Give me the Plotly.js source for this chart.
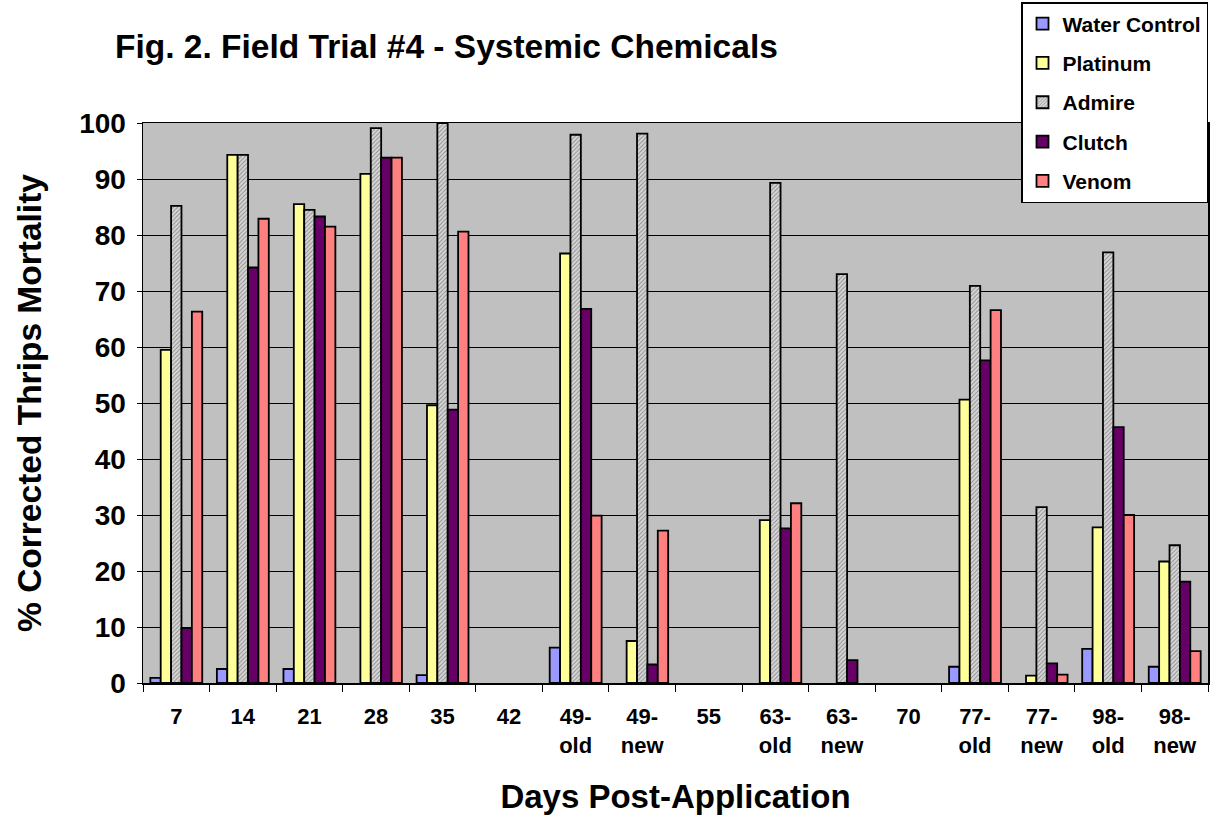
<!DOCTYPE html>
<html>
<head>
<meta charset="utf-8">
<script src="https://cdn.plot.ly/plotly-3.0.1.min.js"></script>
<style>html,body{margin:0;padding:0;background:#fff;}#chart{width:1210px;height:815px;}</style>
</head>
<body>
<div id="chart"></div>
<script>
const categories = ["7","14","21","28","35","42","49-<br>old","49-<br>new","55","63-<br>old","63-<br>new","70","77-<br>old","77-<br>new","98-<br>old","98-<br>new"];
const waterControl = [0.9, 2.5, 2.5, null, 1.4, null, 6.3, null, null, null, null, null, 2.9, null, 6.1, 2.9];
const platinum     = [59.5, 94.3, 85.5, 90.9, 49.6, null, 76.7, 7.5, null, 29.1, null, null, 50.6, 1.3, 27.8, 21.7];
const admire       = [85.2, 94.3, 84.5, 99.1, 100, null, 97.9, 98.1, null, 89.3, 73.0, null, 70.9, 31.4, 76.9, 24.6];
const clutch       = [9.8, 74.2, 83.3, 93.8, 48.8, null, 66.8, 3.3, null, 27.6, 4.1, null, 57.6, 3.5, 45.7, 18.1];
const venom        = [66.3, 82.9, 81.5, 93.8, 80.6, null, 29.9, 27.2, null, 32.1, null, null, 66.6, 1.5, 30.0, 5.7];
const yTicks = [0,10,20,30,40,50,60,70,80,90,100];

const FONT = "Liberation Sans, Arial, sans-serif";
const line = {color: "#000", width: 1.8};
function mk(name, y, color, extra) {
  const m = Object.assign({color: color, line: line}, extra || {});
  return {type: "bar", name: "<b>" + name + "</b>", x: categories, y: y, marker: m, legendgroup: name};
}
const traces = [
  mk("Water Control", waterControl, "#9999ff"),
  mk("Platinum", platinum, "#ffff99"),
  mk("Admire", admire, "#cccccc", {pattern: {shape: "/", size: 3, solidity: 0.3, fgcolor: "#8a8a8a", bgcolor: "#d6d6d6"}}),
  mk("Clutch", clutch, "#660066"),
  mk("Venom", venom, "#ff8080")
];

const layout = {
  width: 1210, height: 815,
  paper_bgcolor: "#ffffff",
  plot_bgcolor: "#c0c0c0",
  margin: {l: 143, r: 2, t: 123, b: 132},
  barmode: "group",
  bargap: 0.22,
  bargroupgap: 0,
  font: {family: FONT, color: "#000"},
  title: {text: "<b>Fig. 2. Field Trial #4 - Systemic Chemicals</b>", font: {family: FONT, size: 33.5, color: "#000"},
          x: 115/1210, xanchor: "left", xref: "container", y: 1 - 46/815, yanchor: "middle", yref: "container"},
  xaxis: {
    type: "category",
    tickvals: categories, ticktext: categories.map(c => "<b>" + c + "</b>"),
    tickfont: {family: FONT, size: 22, color: "#000"},
    ticks: "outside", ticklen: 7, tickcolor: "#000", tickson: "boundaries", ticklabelstandoff: 13,
    showline: true, linecolor: "#000", linewidth: 1.5, mirror: true,
    showgrid: false, zeroline: false, automargin: false,
    title: {text: "<b>Days Post-Application</b>", font: {family: FONT, size: 33, color: "#000"}, standoff: 29}
  },
  yaxis: {
    range: [0, 100], tickvals: yTicks, ticktext: yTicks.map(v => "<b>" + v + "</b>"),
    tickfont: {family: FONT, size: 28, color: "#000"},
    ticks: "outside", ticklen: 5, tickcolor: "#000", ticklabelstandoff: 5,
    showline: true, linecolor: "#000", linewidth: 1.5, mirror: true,
    showgrid: true, gridcolor: "#000", gridwidth: 1, zeroline: false, automargin: false,
    title: {text: "<b>% Corrected Thrips Mortality</b>", font: {family: FONT, size: 33.5, color: "#000"}, standoff: 27}
  },
  showlegend: true,
  legend: {
    xref: "paper", yref: "paper", x: 1, xanchor: "right", y: 1 + 121/560, yanchor: "top",
    bgcolor: "#ffffff", bordercolor: "#000", borderwidth: 1.5,
    font: {family: FONT, size: 21, color: "#000"},
    traceorder: "grouped", tracegroupgap: 9
  }
};

Plotly.newPlot("chart", traces, layout, {displayModeBar: false, staticPlot: true});
</script>
</body>
</html>
